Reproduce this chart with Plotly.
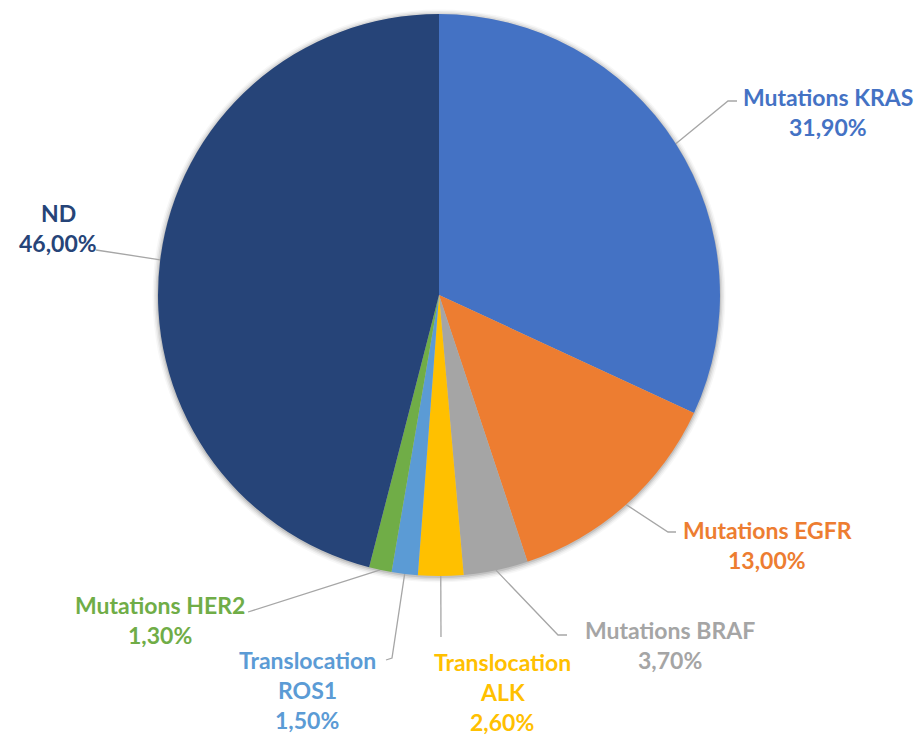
import math
import plotly.graph_objects as go

# ---- data ----
categories = ["Mutations KRAS", "Mutations EGFR", "Mutations BRAF",
              "Translocation ALK", "Translocation ROS1", "Mutations HER2", "ND"]
label_lines = [["Mutations KRAS"], ["Mutations EGFR"], ["Mutations BRAF"],
               ["Translocation", "ALK"], ["Translocation", "ROS1"],
               ["Mutations HER2"], ["ND"]]
values = [31.9, 13.0, 3.7, 2.6, 1.5, 1.3, 46.0]
colors = ["#4472C4", "#ED7D31", "#A5A5A5", "#FFC000", "#5B9BD5", "#70AD47", "#264478"]

# ---- layout geometry (pixels in the browser window) ----
W, H = 916, 735
CX, CY, R = 439, 295, 281
LINE_H = 30
FONT = "Lato"
FSIZE = 23

# text centre of first line, then leader points after the rim point
placement = [
    dict(tx=828, ty=97, pts=[(728, 101), (737, 101)]),
    dict(tx=767, ty=530, pts=[(668, 532), (676, 532)]),
    dict(tx=670, ty=630, pts=[(558, 635), (567, 635)]),
    dict(tx=502, ty=662, pts=[(441, 637)]),
    dict(tx=307, ty=660, pts=[(392, 658), (386, 660)]),
    dict(tx=160, ty=605, pts=[(248, 612)]),
    dict(tx=58, ty=213, pts=[(96, 250)]),
]

def fmt(v):
    return f"{v:.2f}".replace(".", ",") + "%"

fig = go.Figure()

# subtle shadow around pie
for i, op in enumerate([0.10, 0.07, 0.05, 0.03]):
    rr = R + 1 + i * 1.5
    fig.add_shape(type="circle", xref="x", yref="y",
                  x0=CX - rr, x1=CX + rr, y0=CY - rr + 1, y1=CY + rr + 1,
                  fillcolor=f"rgba(0,0,0,{op})", line=dict(width=0), layer="below")

fig.add_trace(go.Pie(
    labels=categories, values=values, sort=False, direction="clockwise",
    rotation=0, marker=dict(colors=colors, line=dict(width=0)),
    textinfo="none", hoverinfo="label+percent", showlegend=False,
    domain=dict(x=[(CX - R) / W, (CX + R) / W],
                y=[1 - (CY + R) / H, 1 - (CY - R) / H]),
))

total = sum(values)
cum = 0.0
annotations = []
for i, v in enumerate(values):
    mid = (cum + v / 2) / total * 2 * math.pi
    cum += v
    sx = CX + R * math.sin(mid)
    sy = CY - R * math.cos(mid)
    xs = [sx] + [p[0] for p in placement[i]["pts"]]
    ys = [sy] + [p[1] for p in placement[i]["pts"]]
    fig.add_trace(go.Scatter(x=xs, y=ys, mode="lines",
                             line=dict(color="#A6A6A6", width=1.3),
                             hoverinfo="skip", showlegend=False))
    lines = label_lines[i] + [fmt(v)]
    for k, t in enumerate(lines):
        annotations.append(dict(
            x=placement[i]["tx"], y=placement[i]["ty"] + k * LINE_H,
            xref="x", yref="y", text=f"<b>{t}</b>", showarrow=False,
            font=dict(family=FONT, size=FSIZE, color=colors[i]),
            xanchor="center", yanchor="middle"))

fig.update_layout(
    width=W, height=H, margin=dict(l=0, r=0, t=0, b=0),
    paper_bgcolor="white", plot_bgcolor="rgba(0,0,0,0)",
    xaxis=dict(range=[0, W], visible=False, fixedrange=True),
    yaxis=dict(range=[H, 0], visible=False, fixedrange=True),
    annotations=annotations,
)

fig.write_html(
    "out.html",
    config={"displayModeBar": False},
    post_script="document.body.style.margin='0';document.body.style.overflow='hidden';",
)
